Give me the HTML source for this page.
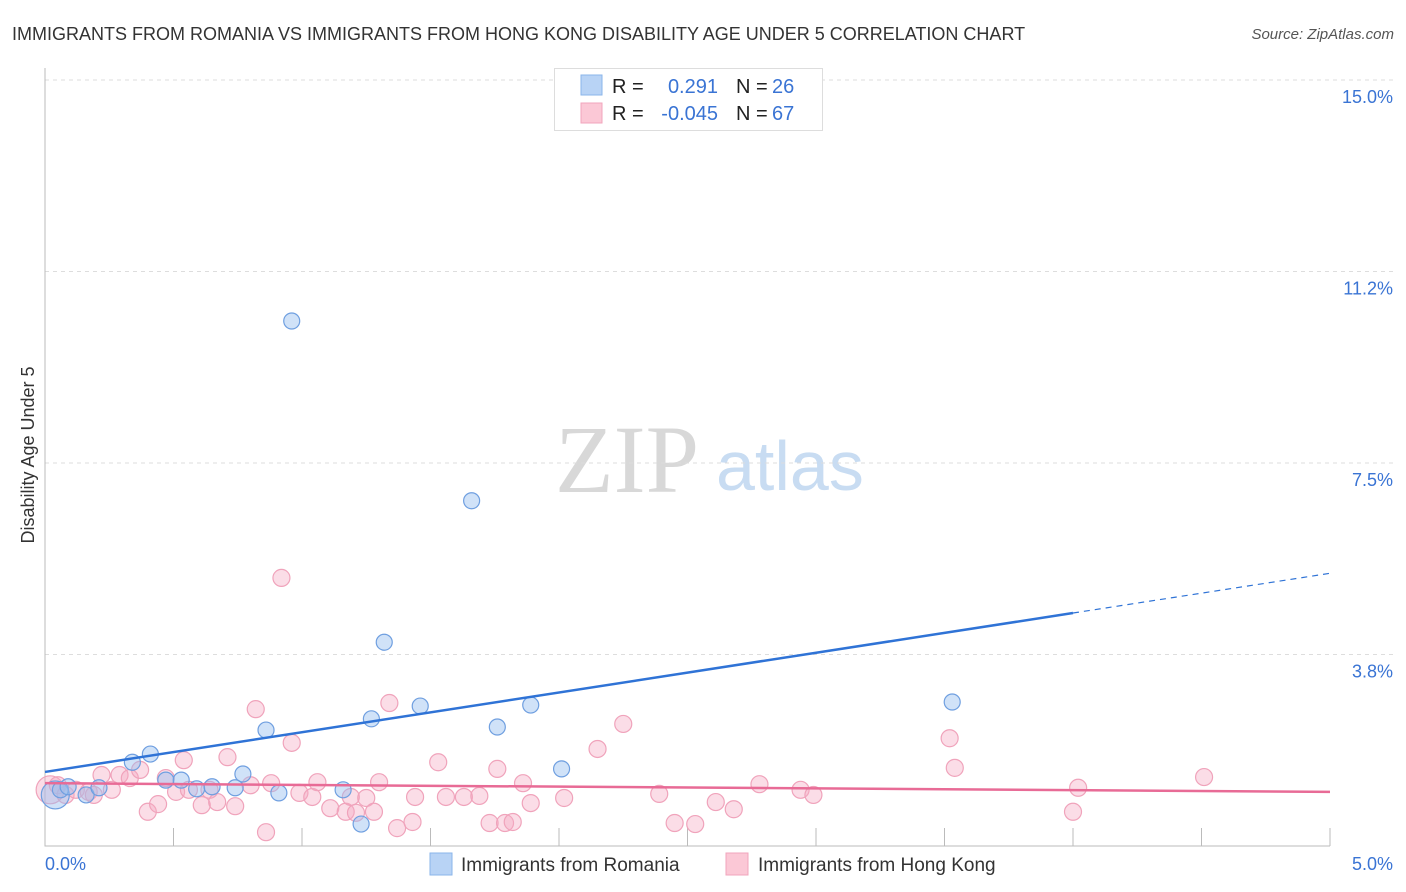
<!DOCTYPE html>
<html><head><meta charset="utf-8"><style>
body{margin:0;background:#fff;font-family:"Liberation Sans",sans-serif;}
#wrap{position:relative;width:1406px;height:892px;overflow:hidden;}
</style></head><body>
<div id="wrap">
<svg id="svg" width="1406" height="892" xmlns="http://www.w3.org/2000/svg">
<text x="12" y="40" font-size="18" fill="#333">IMMIGRANTS FROM ROMANIA VS IMMIGRANTS FROM HONG KONG DISABILITY AGE UNDER 5 CORRELATION CHART</text>
<text x="1394" y="39" font-size="15" fill="#555" font-style="italic" text-anchor="end">Source: ZipAtlas.com</text>
<text x="555" y="492" font-size="96" fill="#d8d8d8" font-family="Liberation Serif,serif">ZIP</text>
<text x="716" y="490" font-size="70" fill="#c8dcf2">atlas</text>
<text transform="translate(34,455) rotate(-90)" font-size="18" fill="#333" text-anchor="middle">Disability Age Under 5</text>
<g id="grid"></g><g id="pts"></g><g id="lines"></g>
<g>
<rect x="554.5" y="68.5" width="268" height="62" fill="#fff" stroke="#ddd"/>
<rect x="581" y="75" width="21" height="20" fill="#b8d3f5" stroke="#8ab4ea"/>
<rect x="581" y="103" width="21" height="20" fill="#fbc8d6" stroke="#f1a5bc"/>
<text x="612" y="93" font-size="20" fill="#222">R =</text>
<text x="718" y="93" font-size="20" fill="#3a74d4" text-anchor="end">0.291</text>
<text x="736" y="93" font-size="20" fill="#222">N =</text>
<text x="772" y="93" font-size="20" fill="#3a74d4">26</text>
<text x="612" y="120" font-size="20" fill="#222">R =</text>
<text x="718" y="120" font-size="20" fill="#3a74d4" text-anchor="end">-0.045</text>
<text x="736" y="120" font-size="20" fill="#222">N =</text>
<text x="772" y="120" font-size="20" fill="#3a74d4">67</text>
</g>
<g>
<rect x="430" y="853" width="22" height="22" fill="#b8d3f5" stroke="#8ab4ea"/>
<text x="461" y="871" font-size="19" fill="#333">Immigrants from Romania</text>
<rect x="726" y="853" width="22" height="22" fill="#fbc8d6" stroke="#f1a5bc"/>
<text x="758" y="871" font-size="19" fill="#333">Immigrants from Hong Kong</text>
</g>
</svg>
</div>
<script>
const yTicks=[3.75,7.5,11.25,15];
const yTickLabels=["3.8%","7.5%","11.2%","15.0%"];
const xTickLabels=["0.0%","5.0%"];
const blueX=[.04,.06,.09,.16,.21,.34,.41,.47,.53,.59,.65,.74,.77,.86,.91,.96,1.16,1.23,1.27,1.32,1.46,1.66,1.76,1.89,2.01,3.53];
const blueY=[1.00,1.10,1.16,1.00,1.14,1.64,1.80,1.29,1.29,1.12,1.16,1.14,1.41,2.27,1.04,10.28,1.10,.43,2.49,3.99,2.74,6.76,2.33,2.76,1.51,2.82];
const pinkX=[.02,.05,.08,.12,.17,.19,.22,.26,.29,.33,.37,.40,.44,.47,.51,.54,.56,.61,.64,.67,.71,.74,.80,.82,.86,.88,.92,.96,.99,1.04,1.06,1.11,1.17,1.19,1.21,1.25,1.28,1.30,1.34,1.37,1.43,1.44,1.53,1.56,1.63,1.69,1.73,1.76,1.79,1.82,1.86,1.89,2.02,2.15,2.25,2.39,2.45,2.53,2.61,2.68,2.78,2.94,2.99,3.52,3.54,4.00,4.02,4.51];
const pinkY=[1.10,1.19,1.00,1.10,1.06,1.00,1.39,1.10,1.39,1.33,1.49,.67,.82,1.33,1.06,1.68,1.10,.80,1.10,.86,1.74,.78,1.19,2.68,.27,1.23,5.25,2.02,1.04,.96,1.25,.74,.67,.96,.65,.94,.67,1.25,2.80,.35,.47,.96,1.64,.96,.96,.98,.45,1.51,.45,.47,1.23,.84,.94,1.90,2.39,1.02,.45,.43,.86,.72,1.21,1.10,1.00,2.11,1.53,.67,1.14,1.35];
const blueTrend=[1.45,5.34];
const pinkTrend=[1.23,1.06];
const X=v=>45+v*257, Y=v=>846-v*51.07;
const NS="http://www.w3.org/2000/svg";
function mk(t,a,p){const e=document.createElementNS(NS,t);for(const k in a)e.setAttribute(k,a[k]);p.appendChild(e);return e;}
const grid=document.getElementById('grid'),pts=document.getElementById('pts'),lines=document.getElementById('lines');
yTicks.forEach((t,i)=>{
 const l=mk('line',{x1:45,x2:1395,y1:Y(t),y2:Y(t),stroke:'#ddd','stroke-dasharray':'4,4'},grid);
 
 
 const tx=mk('text',{x:1393,y:Y(t)+23,'font-size':18,fill:'#3a74d4','text-anchor':'end'},grid);tx.textContent=yTickLabels[i];
 
 
});
const ax=mk('path',{d:'M45,68V846H1330',fill:'none',stroke:'#bbb'},grid);


for(let i=1;i<=10;i++){const t=mk('line',{x1:X(i*.5),x2:X(i*.5),y1:828,y2:846,stroke:'#bbb'},grid);
 
 }
[[0,45,'start'],[5,1393,'end']].forEach((d,i)=>{const t=mk('text',{x:d[1],y:870,'font-size':18,fill:'#3a74d4','text-anchor':d[2]},grid);t.textContent=xTickLabels[i];
 
 });
pinkX.forEach((x,i)=>{const c=mk('circle',{cx:X(x),cy:Y(pinkY[i]),r:i==0?14:8.5,fill:'rgba(246,170,196,0.4)',stroke:'#f0a3bb','stroke-width':1.2},pts);
 
 });
blueX.forEach((x,i)=>{const c=mk('circle',{cx:X(x),cy:Y(blueY[i]),r:i==0?14:8,fill:'rgba(150,190,240,0.45)',stroke:'#6f9fe0','stroke-width':1.2},pts);
 
 });
const b4=blueTrend[0]+(blueTrend[1]-blueTrend[0])*0.8;
let l1=mk('line',{x1:X(0),y1:Y(blueTrend[0]),x2:X(4),y2:Y(b4),stroke:'#2f73d6','stroke-width':2.5},lines);


let l2=mk('line',{x1:X(4),y1:Y(b4),x2:X(5),y2:Y(blueTrend[1]),stroke:'#2f73d6','stroke-width':1.2,'stroke-dasharray':'6,5'},lines);


let l3=mk('line',{x1:X(0),y1:Y(pinkTrend[0]),x2:X(5),y2:Y(pinkTrend[1]),stroke:'#e86b96','stroke-width':2.5},lines);


</script>
</body></html>
